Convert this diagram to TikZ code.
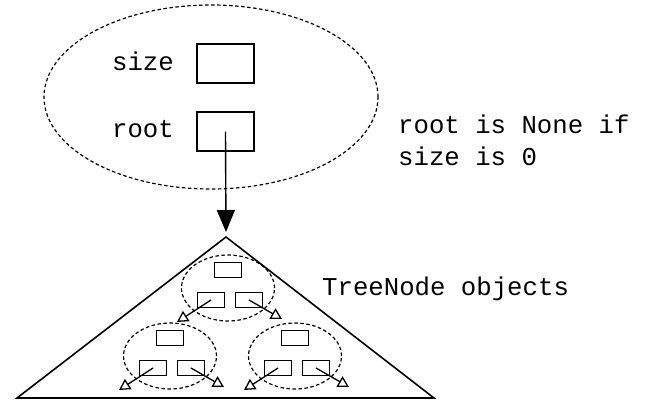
\documentclass[tikz,border=0pt]{standalone}
\usepackage{fontspec}
\setmonofont{Liberation Mono}
\usetikzlibrary{positioning}
\usetikzlibrary{shapes.geometric,arrows.meta}

\begin{document}
\begin{tikzpicture}[
    x=1pt, y=-1pt,
    txt/.style={font=\ttfamily\fontsize{25.7}{32}\selectfont, inner sep=0pt},
    field/.style={draw, line width=1.8pt, minimum width=57pt, minimum height=39pt, inner sep=0pt},
    slot/.style={draw, line width=1.6pt, minimum width=27pt, minimum height=15pt, inner sep=0pt},
    bubble/.style={ellipse, draw, line width=1.2pt, dash pattern=on 3.5pt off 2.5pt, inner sep=0pt},
    ptr/.style={line width=1.3pt, -{Triangle[open, length=11pt, width=12pt]}}
    ]
\useasboundingbox (0,0) rectangle (650,400);

%the tree object
\node[bubble, minimum width=334pt, minimum height=184pt] (obj) at (211,97) {};
\node[txt, anchor=base east] (sizelbl) at (174,70) {size};
\node[txt, anchor=base east] (rootlbl) at (174,137) {root};
\node[field] (size) at (225.5,63.5) {};
\node[field] (root) at (225.5,131.5) {};
\node[txt, anchor=base west, align=left] (note) at (398,165) {root is None if\\size is 0};

%the nodes below root
\coordinate (apex) at (226,237);
\coordinate (bl) at (17,398);
\coordinate (br) at (434,398);
\draw[line width=1.6pt] (apex) -- (bl) -- (br) -- cycle;
\draw[line width=1.4pt, -{Triangle[length=22pt, width=18pt]}, shorten >=5pt] (root.center) -- (apex);
\node[txt, anchor=base west] (kind) at (322,295) {TreeNode objects};

\foreach \t/\cx/\cy in {a/228/288, b/170/356, c/295/356} {
    \node[bubble, minimum width=93pt, minimum height=66pt] (\t) at (\cx,\cy) {};
    \node[slot] (\t-val) at (\cx,\cy-18) {};
    \node[slot] (\t-l) at (\cx-17,\cy+12) {};
    \node[slot] (\t-r) at (\cx+21,\cy+12) {};
    \coordinate (\t-lt) at (\cx-51,\cy+34);
    \coordinate (\t-rt) at (\cx+54,\cy+31);
    \draw[ptr] (\t-l.center) -- (\t-lt);
    \draw[ptr] (\t-r.center) -- (\t-rt);
}
\end{tikzpicture}
\end{document}
